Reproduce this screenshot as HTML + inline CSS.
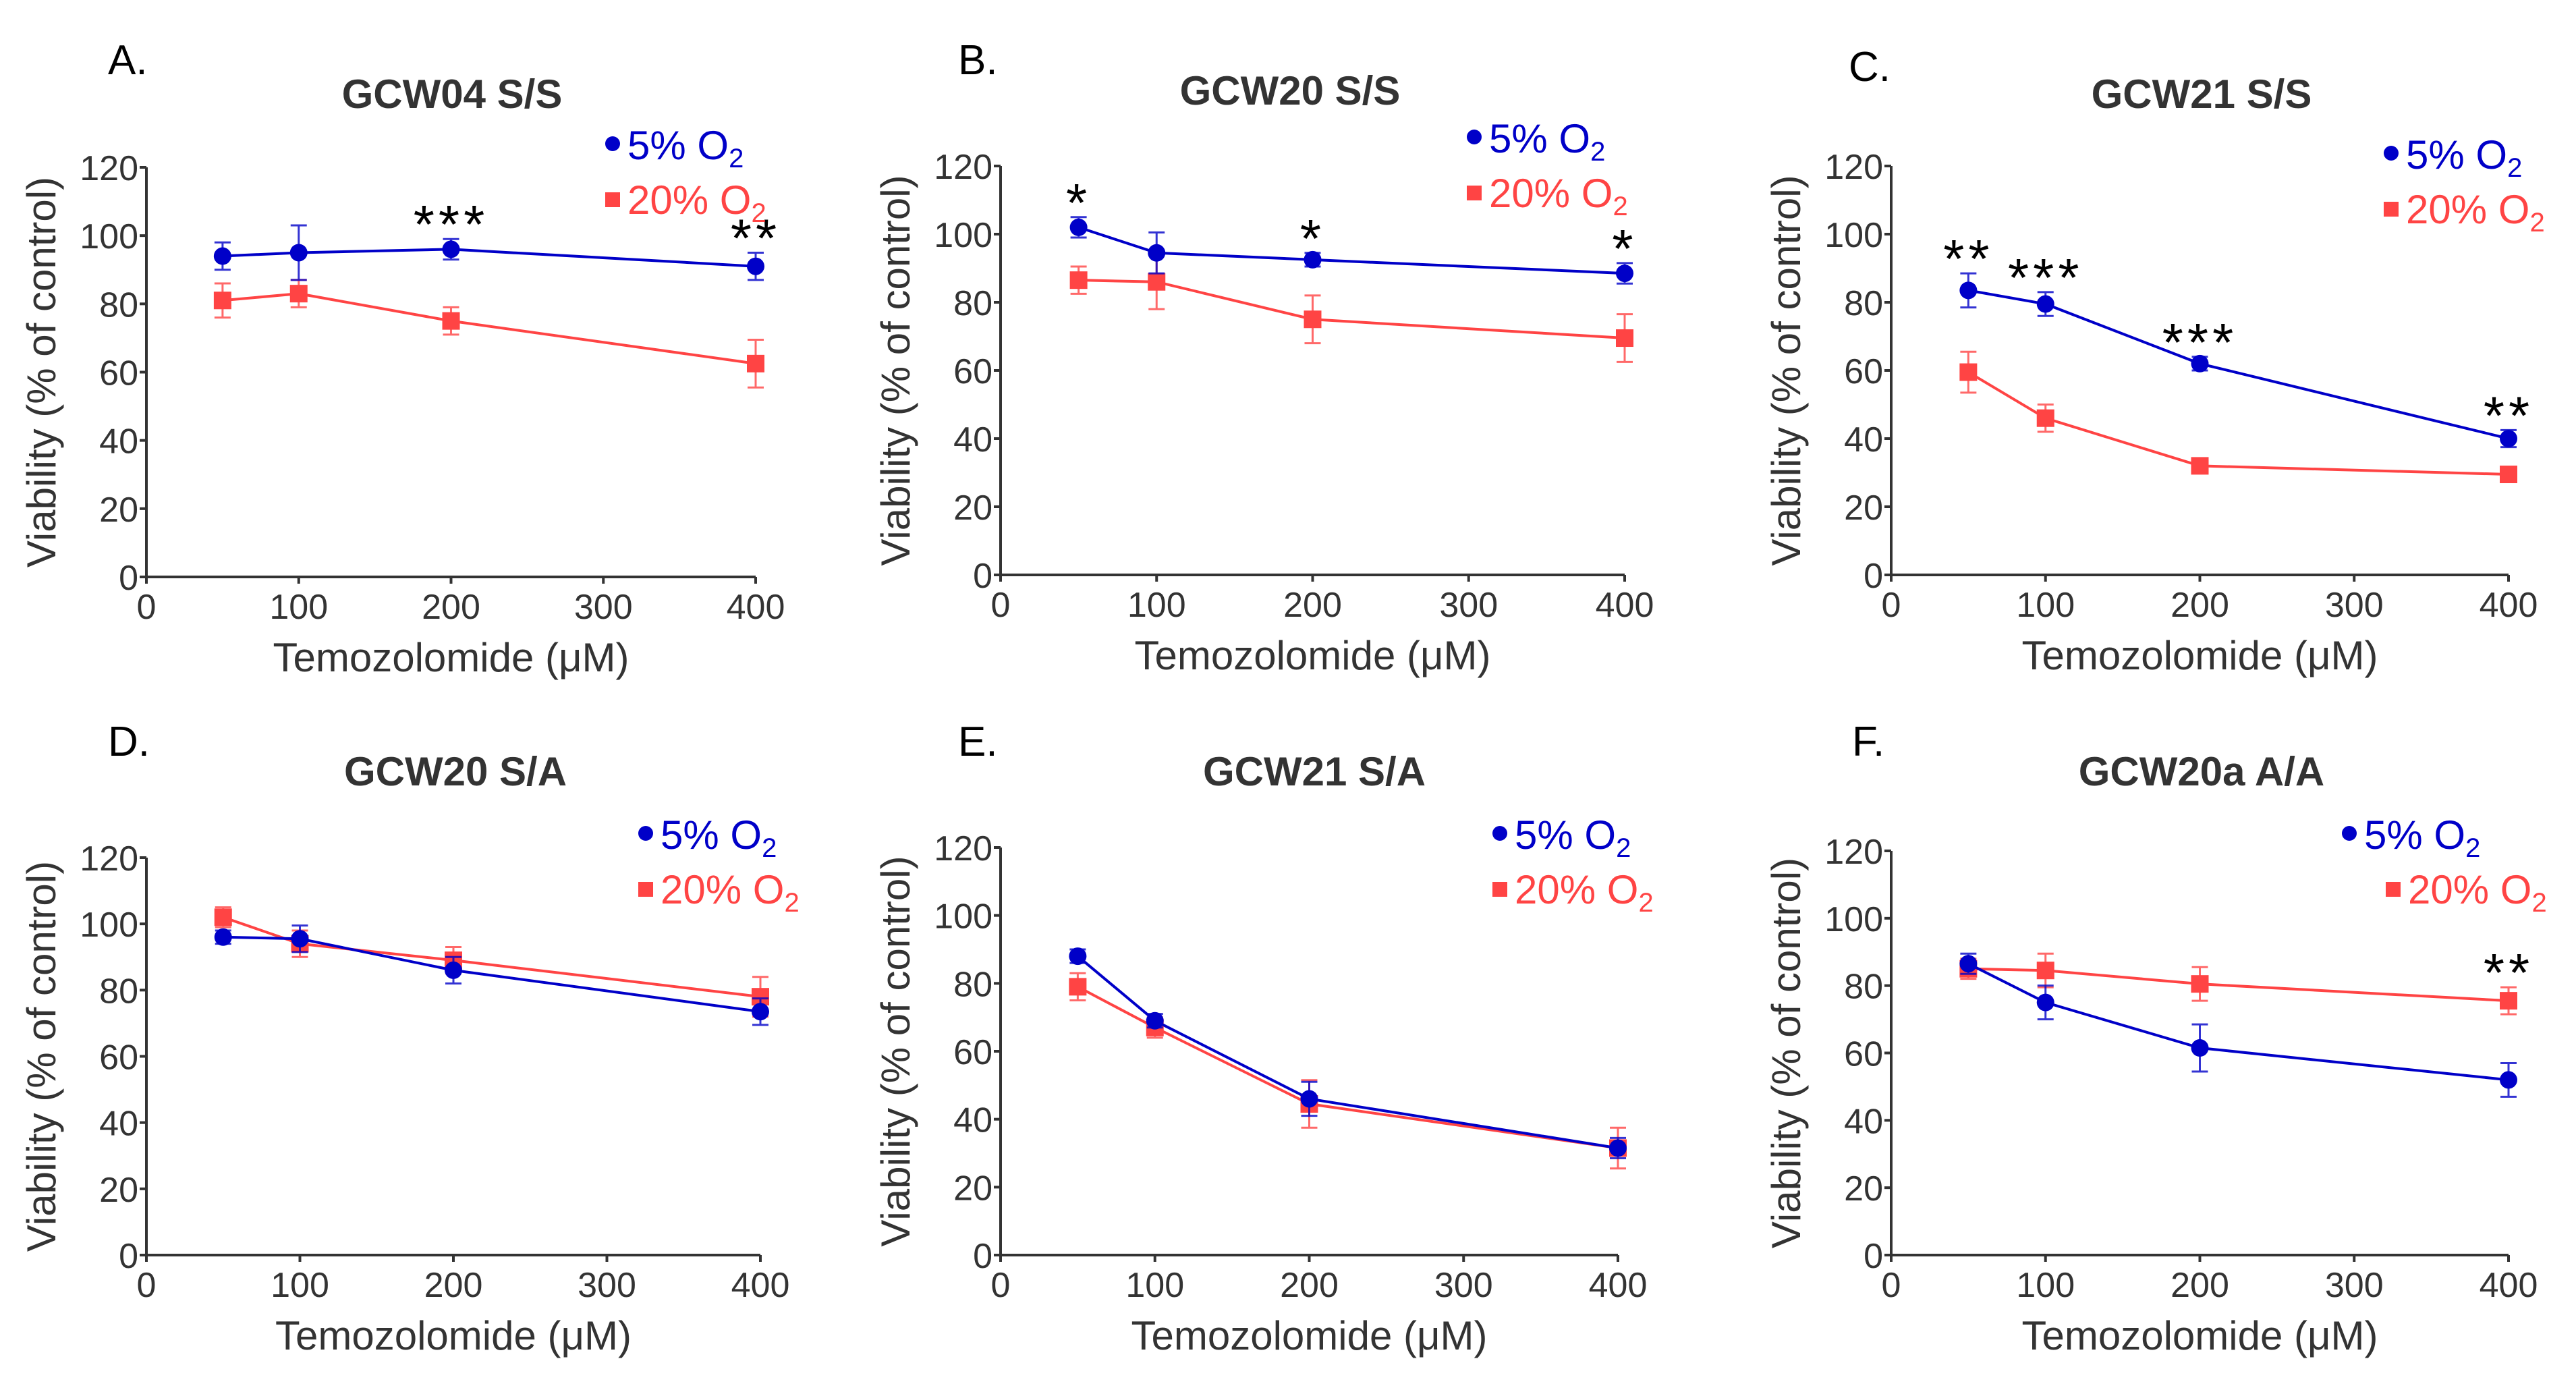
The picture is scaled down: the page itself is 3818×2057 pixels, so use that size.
<!DOCTYPE html>
<html><head><meta charset="utf-8"><style>
html,body{margin:0;padding:0;background:#fff;}
svg{display:block;}
text{font-family:"Liberation Sans",Arial,sans-serif;}
</style></head>
<body>
<svg id="fig" xmlns="http://www.w3.org/2000/svg" width="3818" height="2057" viewBox="0 0 3818 2057"></svg>
<script>
// ---- data ----
const doses = [50, 100, 200, 400];
const xTicks = [0, 100, 200, 300, 400];
const yTicks = [0, 20, 40, 60, 80, 100, 120];
const panelLetters = ["A.", "B.", "C.", "D.", "E.", "F."];
const panelTitles = ["GCW04 S/S", "GCW20 S/S", "GCW21 S/S", "GCW20 S/A", "GCW21 S/A", "GCW20a A/A"];
const blueA = [94, 95, 96, 91];      const blueAErr = [4, 8, 3, 4];
const redA = [81, 83, 75, 62.5];     const redAErr = [5, 4, 4, 7];
const blueB = [102, 94.5, 92.5, 88.5]; const blueBErr = [3, 6, 2, 3];
const redB = [86.5, 86, 75, 69.5];   const redBErr = [4, 8, 7, 7];
const blueC = [83.5, 79.5, 62, 40];  const blueCErr = [5, 3.5, 2, 2.5];
const redC = [59.5, 46, 32, 29.5];   const redCErr = [6, 4, 1, 1];
const blueD = [96, 95.5, 86, 73.5];  const blueDErr = [2, 4, 4, 4];
const redD = [102, 94, 89, 78];      const redDErr = [3, 4, 4, 6];
const blueE = [88, 69, 46, 31.5];    const blueEErr = [2, 2, 5, 3];
const redE = [79, 67, 44.5, 31.5];   const redEErr = [4, 3, 7, 6];
const blueF = [86.5, 75, 61.5, 52];  const blueFErr = [3, 5, 7, 5];
const redF = [85, 84.5, 80.5, 75.5]; const redFErr = [3, 5, 5, 4];
const starsA = ["", "", "***", "**"];
const starsB = ["*", "", "*", "*"];
const starsC = ["**", "***", "***", "**"];
const starsD = ["", "", "", ""];
const starsE = ["", "", "", ""];
const starsF = ["", "", "", "**"];

// ---- layout ----
const layouts = [
  {x0:217,x1:1120,y0:855,y1:248, lx:908, ly:215, tx:670, ty:160, Lx:160, Ly:110},
  {x0:1483,x1:2408,y0:852,y1:246, lx:2185, ly:205, tx:1912, ty:155, Lx:1420, Ly:110},
  {x0:2803,x1:3718,y0:852,y1:246, lx:3544, ly:229, tx:3263, ty:160, Lx:2740, Ly:120},
  {x0:217,x1:1127,y0:1860,y1:1271, lx:957, ly:1237, tx:675, ty:1164, Lx:160, Ly:1120},
  {x0:1483,x1:2398,y0:1860,y1:1256, lx:2223, ly:1237, tx:1948, ty:1164, Lx:1420, Ly:1120},
  {x0:2803,x1:3718,y0:1860,y1:1261, lx:3482, ly:1237, tx:3263, ty:1164, Lx:2745, Ly:1120}
];
const blues=[blueA,blueB,blueC,blueD,blueE,blueF];
const blueErrs=[blueAErr,blueBErr,blueCErr,blueDErr,blueEErr,blueFErr];
const reds=[redA,redB,redC,redD,redE,redF];
const redErrs=[redAErr,redBErr,redCErr,redDErr,redEErr,redFErr];
const starsAll=[starsA,starsB,starsC,starsD,starsE,starsF];
const BLUE="#0000c8", RED="#ff4444", GREY="#333";
const NS="http://www.w3.org/2000/svg";
const svg=document.getElementById('fig');
function mk(tag,attrs,parent,txt){const e=document.createElementNS(NS,tag);for(const k in attrs)e.setAttribute(k,attrs[k]);if(txt!==undefined)e.textContent=txt;(parent||svg).appendChild(e);return e;}

layouts.forEach((L,p)=>{
  const g=mk('g',{});
  
  
  const xs=v=>L.x0+(L.x1-L.x0)*v/400;
  const ys=v=>L.y0+(L.y1-L.y0)*v/120;
  let t=mk('text',{x:L.Lx,y:L.Ly,'font-size':62,fill:'#000'},g,panelLetters[p]);
  
  
  t=mk('text',{x:L.tx,y:L.ty,'font-size':60,'font-weight':'bold',fill:GREY,'text-anchor':'middle'},g,panelTitles[p]);
  
  
  let a=mk('path',{d:`M${L.x0},${L.y1} V${L.y0} H${xs(400)}`,stroke:GREY,'stroke-width':4,fill:'none'},g);
  
  
  yTicks.forEach(v=>{
    mk('line',{x1:L.x0-10,x2:L.x0,y1:ys(v),y2:ys(v),stroke:GREY,'stroke-width':4},g);
    const tt=mk('text',{x:L.x0-12,y:ys(v)+19,'font-size':52,fill:GREY,'text-anchor':'end'},g,String(v));
    
    
  });
  xTicks.forEach(v=>{
    mk('line',{x1:xs(v),x2:xs(v),y1:L.y0,y2:L.y0+10,stroke:GREY,'stroke-width':4},g);
    const tt=mk('text',{x:xs(v),y:L.y0+62,'font-size':52,fill:GREY,'text-anchor':'middle'},g,String(v));
    
    
  });
  t=mk('text',{x:xs(200),y:L.y0+140,'font-size':60,fill:GREY,'text-anchor':'middle'},g,'Temozolomide (\u03bcM)');
  
  
  const cy=(L.y0+L.y1)/2, cx=L.x0-135;
  t=mk('text',{x:cx,y:cy,'font-size':60,fill:GREY,'text-anchor':'middle',transform:`rotate(-90 ${cx} ${cy})`},g,'Viability (% of control)');
  
  
  [[reds[p],redErrs[p],RED,'red'],[blues[p],blueErrs[p],BLUE,'blue']].forEach(([vals,errs,col,nm])=>{
    const pts=doses.map((d,i)=>`${xs(d)},${ys(vals[i])}`).join(' ');
    const l=mk('polyline',{points:pts,stroke:col,'stroke-width':4,fill:'none'},g);
    
    
    doses.forEach((d,i)=>{
      const x=xs(d),y=ys(vals[i]),yt=ys(vals[i]+errs[i]),yb=ys(vals[i]-errs[i]);
      mk('path',{d:`M${x},${yt}V${yb}M${x-12},${yt}H${x+12}M${x-12},${yb}H${x+12}`,stroke:col,'stroke-width':3,fill:'none',opacity:0.8},g);
      let m;
      if(nm==='blue') m=mk('circle',{cx:x,cy:y,r:13,fill:col},g);
      else m=mk('rect',{x:x-13,y:y-13,width:26,height:26,fill:col},g);
      
      
    });
  });
  starsAll[p].forEach((s,i)=>{
    if(!s) return;
    const top=Math.max(blues[p][i]+blueErrs[p][i], reds[p][i]+redErrs[p][i]);
    const st=mk('text',{x:xs(doses[i]),y:ys(top)+6,'font-size':80,'letter-spacing':6,fill:'#000','text-anchor':'middle'},g,s);
    
    
  });
  const lg=mk('g',{},g);
  
  
  mk('circle',{cx:L.lx,cy:L.ly-2,r:11,fill:BLUE},lg);
  const t1=mk('text',{x:L.lx+22,y:L.ly+21,'font-size':60,fill:BLUE},lg);
  t1.appendChild(document.createTextNode('5% O'));
  mk('tspan',{'font-size':40,dy:12},t1,'2');
  const dx=(p===5)?65:0;
  mk('rect',{x:L.lx+dx-11,y:L.ly+70,width:22,height:22,fill:RED},lg);
  const t2=mk('text',{x:L.lx+dx+22,y:L.ly+102,'font-size':60,fill:RED},lg);
  t2.appendChild(document.createTextNode('20% O'));
  mk('tspan',{'font-size':40,dy:12},t2,'2');
});
</script>
</body></html>
